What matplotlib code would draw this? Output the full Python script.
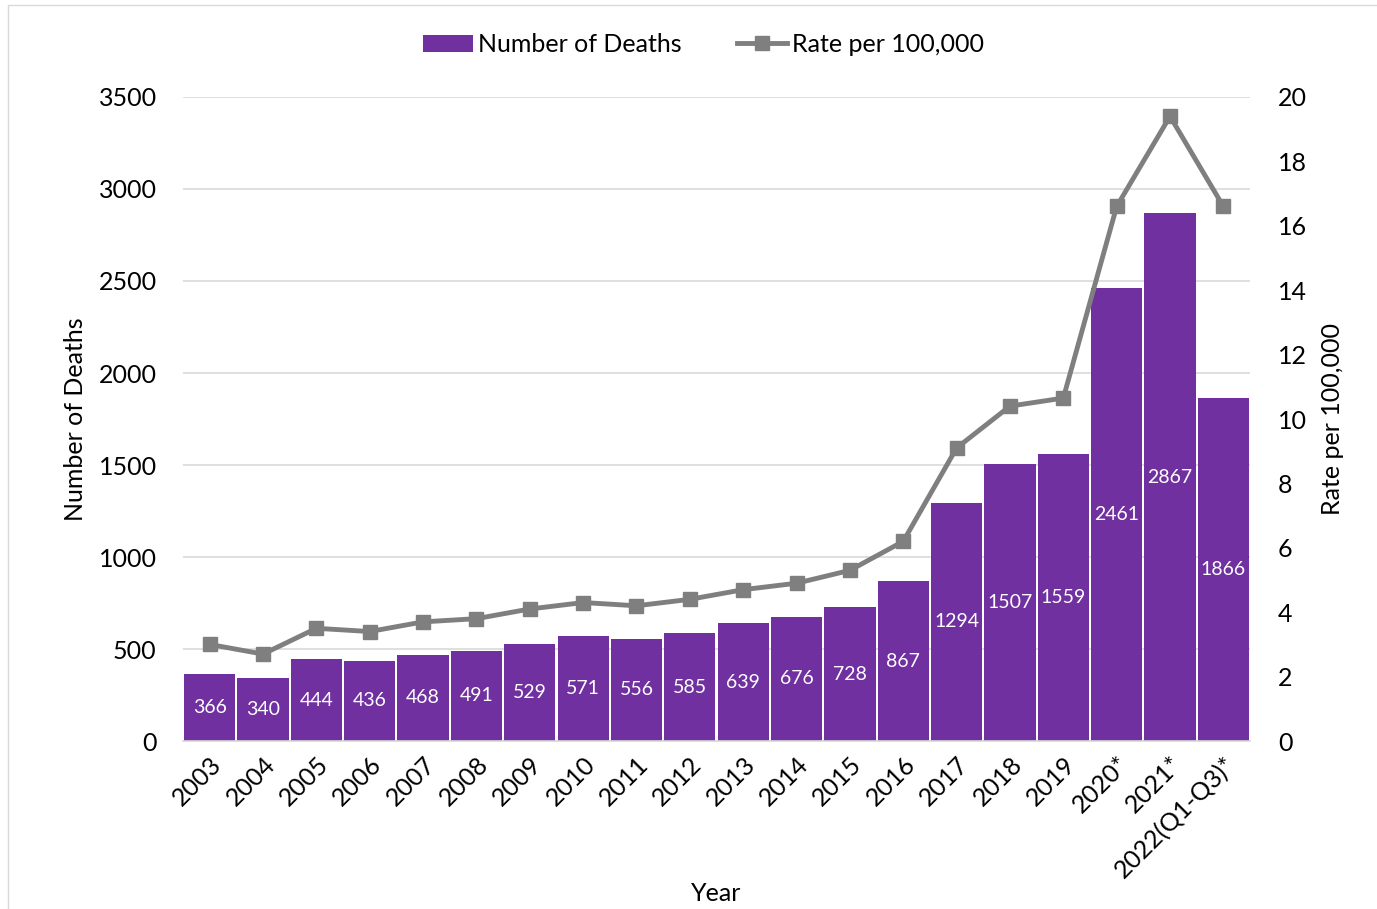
import matplotlib.pyplot as plt
from matplotlib.patches import Rectangle

years = ['2003', '2004', '2005', '2006', '2007', '2008', '2009', '2010', '2011',
         '2012', '2013', '2014', '2015', '2016', '2017', '2018', '2019',
         '2020*', '2021*', '2022(Q1-Q3)*']
deaths = [366, 340, 444, 436, 468, 491, 529, 571, 556, 585, 639, 676, 728,
          867, 1294, 1507, 1559, 2461, 2867, 1866]
rate = [3.0, 2.7, 3.5, 3.4, 3.7, 3.8, 4.1, 4.3, 4.2, 4.4, 4.7, 4.9, 5.3,
        6.2, 9.1, 10.4, 10.65, 16.6, 19.4, 16.6]

purple = '#7030a0'
grey = '#7f7f7f'

plt.rcParams['font.family'] = ['Lato', 'DejaVu Sans']


def main():
    fig = plt.figure(figsize=(13.77, 9.09), dpi=100)
    fig.patches.append(Rectangle((0.006, -0.01), 1.0, 1.004, transform=fig.transFigure,
                                 fill=False, edgecolor='#d9d9d9', lw=1))
    ax = fig.add_axes([0.1329, 0.1848, 0.7749, 0.7085])
    x = list(range(len(years)))
    bars = ax.bar(x, deaths, width=0.96, color=purple, label='Number of Deaths', zorder=2)
    for b, v in zip(bars, deaths):
        ax.text(b.get_x() + b.get_width() / 2, v / 2, str(v), color='white',
                ha='center', va='center', fontsize=14, zorder=3)
    ax.set_xlim(-0.5, len(years) - 0.5)
    ax.set_ylim(0, 3500)
    ax.set_yticks(range(0, 3501, 500))
    ax.yaxis.grid(True, color='#d9d9d9', lw=1.2)
    ax.set_axisbelow(True)
    for s in ['top', 'right', 'left']:
        ax.spines[s].set_visible(False)
    ax.spines['bottom'].set_color('#d9d9d9')
    ax.spines['bottom'].set_linewidth(1.2)
    ax.tick_params(length=0, labelsize=18, pad=19)
    ax.set_xticks(x)
    ax.set_xticklabels(years, rotation=45, ha='right', rotation_mode='anchor')
    ax.tick_params(axis='x', pad=8, labelsize=18)
    ax.set_ylabel('Number of Deaths', fontsize=18, labelpad=8)
    ax.set_xlabel('Year', fontsize=18, labelpad=0)

    ax2 = ax.twinx()
    ax2.plot(x, rate, color=grey, lw=3.5, marker='s', markersize=10,
             label='Rate per 100,000', zorder=4)
    ax2.set_ylim(0, 20)
    ax2.set_yticks(range(0, 21, 2))
    for s in ['top', 'right', 'left', 'bottom']:
        ax2.spines[s].set_visible(False)
    ax2.tick_params(length=0, labelsize=18, pad=20)
    ax2.set_ylabel('Rate per 100,000', fontsize=18, labelpad=10)

    h1, l1 = ax.get_legend_handles_labels()
    h2, l2 = ax2.get_legend_handles_labels()
    fig.legend(h1 + h2, l1 + l2, loc='center', bbox_to_anchor=(0.511, 0.951), ncol=2,
               frameon=False, fontsize=18, handlelength=2.0, handletextpad=0.2,
               columnspacing=2.2)
    fig.savefig('out.png', dpi=100)


if __name__ == '__main__':
    main()
